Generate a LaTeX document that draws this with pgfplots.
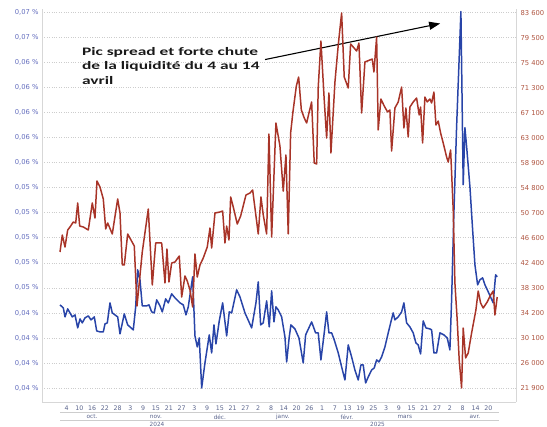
\documentclass[border=0pt]{standalone}
\usepackage{fontspec}
\setmainfont{DejaVu Sans}
\newfontfamily\annotfont[FakeStretch=1.52]{Carlito}
\usepackage{pgfplots}
\pgfplotsset{compat=1.18}
\usetikzlibrary{arrows.meta}
\definecolor{spread}{RGB}{40,68,168}
\definecolor{liq}{RGB}{168,52,40}
\definecolor{lefttick}{RGB}{100,110,190}
\definecolor{righttick}{RGB}{175,85,65}
\definecolor{gridc}{RGB}{205,205,205}
\definecolor{axc}{RGB}{215,215,215}
\definecolor{xtc}{RGB}{90,100,140}
\tikzset{mlab/.style={font=\fontsize{5.8}{6}\selectfont, text=xtc, inner sep=0pt}}
\begin{document}
\begin{tikzpicture}
\useasboundingbox (0,0) rectangle (547bp,427bp);
\begin{axis}[
  at={(42bp,25bp)}, anchor=south west,
  scale only axis, width=474bp, height=392.5bp,
  xmin=-11.5, xmax=211, ymin=0.03688, ymax=0.06824,
  scaled ticks=false,
  axis y line*=left, axis x line*=bottom,
  axis line style={axc, line width=0.8pt, -},
  major tick length=0pt,
  xtick={0,6,...,198},
  xticklabels={4,10,16,22,28,3,9,15,21,27,3,9,15,21,27,2,8,14,20,26,1,7,13,19,25,3,9,15,21,27,2,8,14,20},
  x tick label style={font=\fontsize{6.3}{7}\selectfont, text=xtc},
  ytick={0.038,0.040,0.042,0.044,0.046,0.048,0.050,0.052,0.054,0.056,0.058,0.060,0.062,0.064,0.066,0.068},
  yticklabels={{0,04 \%},{0,04 \%},{0,04 \%},{0,04 \%},{0,05 \%},{0,05 \%},{0,05 \%},{0,05 \%},{0,05 \%},{0,06 \%},{0,06 \%},{0,06 \%},{0,06 \%},{0,06 \%},{0,07 \%},{0,07 \%}},
  y tick label style={font=\fontsize{6.8}{7}\selectfont, text=lefttick},
  ymajorgrids, grid style={gridc, dotted, line width=0.6pt},
  clip=false,
]
\addplot[spread, line width=1.5pt, line join=round] coordinates {
(-3.05,0.04464)(-1.50,0.0444)(-0.70,0.04368)(0.56,0.04432)(1.64,0.0440)(2.72,0.04368)(3.99,0.04384)(5.26,0.0428)(6.34,0.04352)(7.41,0.0432)(8.68,0.0436)(10.23,0.04376)(11.50,0.04344)(13.05,0.04368)(14.17,0.04256)(15.72,0.04248)(17.27,0.04248)(18.07,0.04312)(19.15,0.0432)(20.41,0.0448)(21.49,0.0440)(22.76,0.04384)(24.03,0.04368)(25.11,0.04232)(27.13,0.04392)(28.72,0.04304)(29.80,0.04288)(31.35,0.04264)(32.47,0.04448)(33.41,0.04744)(34.49,0.04664)(35.57,0.04456)(37.64,0.04456)(38.72,0.04464)(39.98,0.04408)(41.20,0.0440)(42.33,0.04504)(43.88,0.04456)(44.96,0.04408)(46.55,0.04512)(47.78,0.0448)(49.37,0.04552)(50.92,0.0452)(53.27,0.0448)(54.81,0.04464)(56.08,0.04384)(57.16,0.04448)(59.22,0.04688)(60.30,0.04216)(61.38,0.04128)(62.32,0.0420)(63.45,0.0380)(64.99,0.0400)(67.01,0.04224)(68.14,0.0408)(69.22,0.04304)(70.16,0.04152)(71.71,0.04336)(73.30,0.0448)(75.18,0.04216)(76.40,0.04408)(77.53,0.0440)(79.87,0.04584)(81.42,0.04528)(83.77,0.0440)(86.91,0.0428)(88.93,0.0448)(90.01,0.04648)(91.13,0.04304)(92.35,0.0432)(93.95,0.04496)(95.17,0.04288)(96.30,0.04576)(97.38,0.04328)(98.31,0.04448)(99.39,0.04424)(100.99,0.04368)(102.54,0.04208)(103.34,0.04008)(104.56,0.04208)(105.35,0.04304)(107.23,0.04272)(109.11,0.0420)(111.12,0.0400)(112.25,0.04224)(115.07,0.04328)(116.94,0.0424)(118.17,0.0424)(119.43,0.04024)(120.98,0.0424)(122.11,0.04408)(123.19,0.0424)(124.46,0.0424)(125.68,0.04184)(127.56,0.0408)(129.15,0.03968)(130.70,0.03864)(132.25,0.04144)(133.84,0.04048)(135.38,0.03944)(136.93,0.03864)(138.20,0.03984)(139.28,0.03984)(140.41,0.0384)(141.63,0.03888)(143.23,0.03944)(144.44,0.0396)(145.58,0.04024)(146.65,0.04008)(147.92,0.04048)(149.47,0.04128)(151.02,0.0424)(152.28,0.04328)(153.36,0.0440)(154.16,0.04344)(155.71,0.04368)(157.31,0.04408)(158.38,0.0448)(159.65,0.0432)(161.20,0.04288)(162.75,0.0424)(164.02,0.0416)(165.09,0.04144)(166.22,0.04072)(167.44,0.04336)(168.71,0.0428)(170.59,0.04272)(171.39,0.04264)(172.47,0.0408)(173.73,0.0408)(175.28,0.0424)(177.16,0.04224)(178.71,0.0420)(179.97,0.04104)(180.77,0.04504)(181.85,0.0520)(183.12,0.05888)(185.14,0.06808)(186.22,0.05424)(187.02,0.0588)(187.82,0.05728)(189.37,0.05408)(190.64,0.05064)(191.72,0.04784)(192.99,0.04624)(194.07,0.04664)(195.34,0.0468)(196.42,0.04624)(197.97,0.04568)(200.30,0.0448)(201.43,0.04704)(202.18,0.04688)
};
% month / year rows
\draw[gridc, line width=0.5pt] ([yshift=-10bp]axis cs:-3,0.03688) -- ([yshift=-10bp]axis cs:203,0.03688);
\draw[gridc, line width=0.5pt] ([yshift=-18bp]axis cs:-3,0.03688) -- ([yshift=-18bp]axis cs:203,0.03688);
\node[mlab, yshift=-15bp] at (axis cs:12,0.03688) {oct.};
\node[mlab, yshift=-15bp] at (axis cs:42,0.03688) {nov.};
\node[mlab, yshift=-15bp] at (axis cs:72,0.03688) {déc.};
\node[mlab, yshift=-15bp] at (axis cs:101.6,0.03688) {janv.};
\node[mlab, yshift=-15bp] at (axis cs:131.6,0.03688) {févr.};
\node[mlab, yshift=-15bp] at (axis cs:158.8,0.03688) {mars};
\node[mlab, yshift=-15bp] at (axis cs:191.7,0.03688) {avr.};
\node[mlab, yshift=-22.5bp] at (axis cs:42.5,0.03688) {2024};
\node[mlab, yshift=-22.5bp] at (axis cs:146,0.03688) {2025};
% annotation
\draw[-{Triangle[length=11bp, width=8bp]}, line width=1.1pt, black] (axis cs:93.2,0.06424) -- (axis cs:175.4,0.06712);
\node[anchor=north west, align=left, inner sep=0pt, font=\annotfont\bfseries\fontsize{11.5}{14.5}\selectfont, text=black!90] at (axis cs:7.2,0.06524) {Pic spread et forte chute\\de la liquidité du 4 au 14\\avril};
\end{axis}
\begin{axis}[
  at={(42bp,25bp)}, anchor=south west,
  scale only axis, width=474bp, height=392.5bp,
  xmin=-11.5, xmax=211, ymin=19597, ymax=84176,
  scaled ticks=false,
  axis y line*=right, axis x line=none,
  axis line style={axc, line width=0.8pt, -},
  major tick length=0pt,
  ytick={21900,26013.3,30126.7,34240,38353.3,42466.7,46580,50693.3,54806.7,58920,63033.3,67146.7,71260,75373.3,79486.7,83600},
  yticklabels={21 900,26 000,30 100,34 200,38 300,42 400,46 600,50 700,54 800,58 900,63 000,67 100,71 300,75 400,79 500,83 600},
  y tick label style={font=\fontsize{6.8}{7}\selectfont, text=righttick, xshift=1bp},
]
\addplot[liq, line width=1.5pt, line join=round] coordinates {
(-3.05,44280)(-1.97,47070)(-0.70,45100)(0.56,47900)(1.64,48390)(3.19,49210)(4.32,49050)(5.26,52340)(6.19,48550)(7.88,48390)(10.23,47900)(12.11,52340)(13.37,49870)(14.31,55960)(15.72,54970)(17.27,53000)(18.40,48060)(19.34,49050)(21.49,47240)(24.03,53000)(25.11,50690)(26.19,42140)(27.13,42140)(28.72,47240)(31.82,45260)(33.09,35390)(35.57,44280)(38.39,51350)(40.27,38850)(41.86,45760)(44.68,45760)(46.23,39180)(47.16,44770)(48.10,39340)(49.37,42470)(50.92,42630)(52.94,43620)(54.06,36870)(55.61,40330)(56.69,39500)(57.96,38020)(59.22,35230)(60.30,43950)(61.38,40160)(62.65,42140)(64.20,43290)(66.08,45100)(67.35,48220)(68.14,44930)(69.69,50690)(72.04,50860)(73.30,51020)(74.38,45760)(75.18,48550)(76.26,46250)(77.06,53330)(78.28,51680)(80.16,48880)(81.75,50200)(84.24,53650)(86.12,53980)(87.38,54480)(90.01,47240)(91.28,53330)(92.36,50360)(93.95,47240)(95.03,63690)(96.30,46740)(98.31,65500)(100.19,61720)(101.74,54310)(103.01,60240)(104.09,47240)(105.21,63860)(106.29,67310)(107.89,71590)(108.97,73070)(110.24,67640)(111.60,66320)(112.73,65500)(113.81,67150)(115.07,68960)(116.29,58920)(117.42,58750)(118.17,71420)(119.43,78990)(120.98,69290)(122.11,63030)(123.19,70440)(124.13,60570)(126.01,72250)(127.56,78330)(129.15,83600)(130.37,73070)(132.25,71260)(133.37,78500)(134.60,78000)(136.19,77350)(137.27,78660)(138.54,67150)(140.08,75540)(142.43,75870)(143.51,76030)(144.31,73890)(145.58,79650)(146.32,64350)(147.59,69450)(149.14,68300)(150.73,67310)(151.81,67640)(152.61,60890)(154.16,67970)(155.71,68960)(157.31,71420)(158.38,64680)(159.32,67970)(160.40,63200)(161.20,68130)(162.75,68960)(164.34,69610)(165.56,66820)(166.22,68130)(167.16,62210)(168.24,69780)(169.32,68960)(170.59,69450)(171.39,68790)(172.47,70600)(173.41,65170)(174.49,65830)(175.61,63860)(176.83,62210)(178.43,59910)(179.18,59080)(180.31,61060)(181.53,51190)(182.32,39180)(183.40,33090)(184.34,26510)(185.46,21900)(186.22,31770)(187.34,26840)(188.56,27660)(190.16,30950)(192.17,34730)(193.25,37860)(194.38,35890)(195.60,35060)(197.48,36050)(199.08,37200)(200.30,37860)(201.10,33910)(202.18,36870)
};
\end{axis}
\end{tikzpicture}
\end{document}
